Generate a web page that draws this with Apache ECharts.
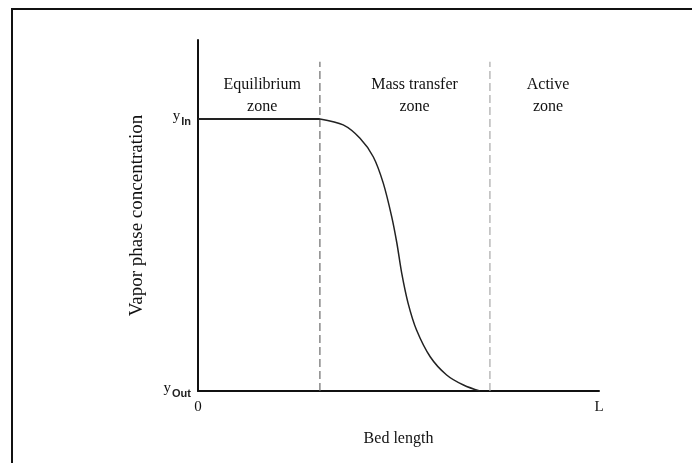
<!DOCTYPE html>
<html>
<head>
<meta charset="utf-8">
<script src="https://cdn.jsdelivr.net/npm/echarts@6/dist/echarts.min.js"></script>
<style>
  html, body { margin: 0; padding: 0; background: #fff; }
  #chart { width: 692px; height: 463px; }
</style>
</head>
<body>
<div id="chart"></div>
<script>
// Bed length runs 0..L (L = 100); concentration runs y_Out (0) .. y_In (1)
const bedLength = [0, 30.4, 36.2, 40.4, 43.7, 46.2, 48.3, 49.6, 50.8, 52.4, 54.5, 57.9, 62.0, 66.2, 70.3];
const concentration = [1, 1, 0.978, 0.929, 0.861, 0.764, 0.641, 0.543, 0.433, 0.322, 0.224, 0.126, 0.059, 0.022, 0];

// zone boundaries along the bed
const zoneBoundaries = [30.4, 72.8];
const boundaryTop = 1.21;

// zone captions and where they sit
const zoneNames = ['Equilibrium\nzone', 'Mass transfer\nzone', 'Active\nzone'];
const zoneLabelX = [16.0, 54.0, 87.3];
const zoneLabelY = 1.085;

// axis tick labels
const xTickLabels = { 0: '0', 100: 'L' };
const yTickLabels = { 0: 'Out', 1: 'In' };

const serif = '"Liberation Serif", "DejaVu Serif", serif';
const sans = '"Liberation Sans", Arial, sans-serif';

const chart = echarts.init(document.getElementById('chart'), null, { renderer: 'canvas' });

const points = bedLength.map((x, i) => [x, concentration[i]]);

const boundarySeries = zoneBoundaries.map((x, i) => ({
  type: 'line',
  data: [[x, 0], [x, boundaryTop]],
  symbol: 'none',
  silent: true,
  z: 1,
  lineStyle: { color: i === 0 ? '#6a6a6a' : '#a8a8a8', width: 1.2, type: [8, 4] }
}));

chart.setOption({
  animation: false,
  backgroundColor: '#ffffff',
  grid: { left: 198, right: 93, top: 40, bottom: 72 },
  xAxis: {
    type: 'value',
    min: 0, max: 100, interval: 100,
    name: 'Bed length',
    nameLocation: 'middle',
    nameGap: 40,
    nameTextStyle: { fontFamily: serif, fontSize: 16, color: '#111' },
    axisLine: { lineStyle: { color: '#111', width: 2 } },
    axisTick: { show: false },
    splitLine: { show: false },
    axisLabel: {
      margin: 9,
      fontFamily: serif, fontSize: 15, color: '#111',
      formatter: v => xTickLabels[v] !== undefined ? xTickLabels[v] : ''
    }
  },
  yAxis: {
    type: 'value',
    min: 0, max: 1.29, interval: 1,
    name: 'Vapor phase concentration',
    nameLocation: 'middle',
    nameGap: 51,
    nameTextStyle: { fontFamily: serif, fontSize: 19, color: '#111' },
    axisLine: { show: true, lineStyle: { color: '#111', width: 2 } },
    axisTick: { show: false },
    splitLine: { show: false },
    axisLabel: {
      margin: 7,
      formatter: v => yTickLabels[v] !== undefined ? '{y|y}{sub|' + yTickLabels[v] + '}' : '',
      rich: {
        y: { fontFamily: serif, fontSize: 15, color: '#111', padding: [0, 1, 6, 0] },
        sub: { fontFamily: sans, fontSize: 11, fontWeight: 'bold', color: '#222', padding: [6, 0, 0, 0] }
      }
    }
  },
  series: [
    ...boundarySeries,
    {
      // flat stretch at the inlet concentration
      type: 'line',
      data: points.slice(0, 2),
      symbol: 'none',
      z: 3,
      lineStyle: { color: '#222', width: 2 }
    },
    {
      // breakthrough front across the mass transfer zone
      type: 'line',
      data: points.slice(1),
      symbol: 'none',
      smooth: 0.3,
      z: 3,
      lineStyle: { color: '#222', width: 1.5 }
    }
  ]
});

// zone captions placed through the axis scales
chart.setOption({
  graphic: [{
    type: 'rect',
    shape: { x: 12, y: 9, width: 720, height: 500 },
    style: { fill: 'none', stroke: '#111', lineWidth: 2 },
    silent: true
  }].concat(zoneNames.map((n, i) => {
    const p = chart.convertToPixel({ gridIndex: 0 }, [zoneLabelX[i], zoneLabelY]);
    return {
      type: 'text',
      x: p[0], y: p[1],
      silent: true,
      style: {
        text: n,
        fill: '#111',
        font: '16px ' + serif,
        lineHeight: 22,
        align: 'center',
        verticalAlign: 'middle'
      }
    };
  }))
});
</script>
</body>
</html>
